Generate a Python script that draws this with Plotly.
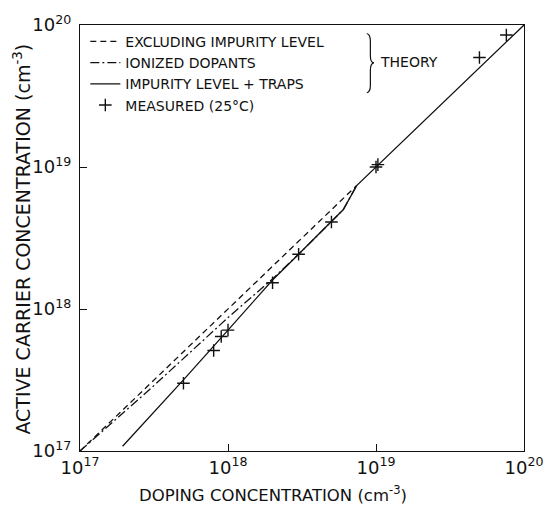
import plotly.graph_objects as go

# Theory: carriers equal doping when the impurity level is ignored
excl_doping = [1e17, 7.4e18]
excl_carriers = [1e17, 7.4e18]

# Theory: ionized dopants only
ion_doping = [1e17, 3e17, 1e18, 2e18, 3e18, 5e18, 6e18, 7.4e18]
ion_carriers = [1e17, 2.75e17, 8.7e17, 1.63e18, 2.43e18, 4.1e18, 5.0e18, 7.4e18]

# Theory: impurity level plus traps
trap_doping = [1.94e17, 3.16e17, 5e17, 1e18, 2e18, 3e18, 5e18, 6e18, 7.4e18, 1e20]
trap_carriers = [1.08e17, 1.88e17, 3.17e17, 7.1e17, 1.6e18, 2.43e18, 4.1e18, 5.0e18, 7.4e18, 1e20]

# Measured at 25 C
meas_doping = [5e17, 8e17, 9e17, 1e18, 2e18, 3e18, 5e18, 1e19, 1.03e19, 5e19, 7.6e19]
meas_carriers = [3.0e17, 5.1e17, 6.4e17, 7.1e17, 1.53e18, 2.43e18, 4.1e18, 1.0e19, 1.04e19, 5.9e19, 8.5e19]

tick_vals = [1e17, 1e18, 1e19, 1e20]
tick_text = ["10<sup>17</sup>", "10<sup>18</sup>", "10<sup>19</sup>", "10<sup>20</sup>"]

FONT = "DejaVu Sans"
INK = "#111111"

fig = go.Figure()
fig.add_trace(go.Scatter(
    x=excl_doping, y=excl_carriers, mode="lines",
    name="EXCLUDING IMPURITY LEVEL",
    line=dict(color=INK, width=1.3, dash="6px,4px"),
))
fig.add_trace(go.Scatter(
    x=ion_doping, y=ion_carriers, mode="lines",
    name="IONIZED DOPANTS",
    line=dict(color=INK, width=1.3, dash="9px,3px,2px,3px"),
))
fig.add_trace(go.Scatter(
    x=trap_doping, y=trap_carriers, mode="lines",
    name="IMPURITY LEVEL + TRAPS",
    line=dict(color=INK, width=1.3),
))
fig.add_trace(go.Scatter(
    x=meas_doping, y=meas_carriers, mode="markers",
    name="MEASURED (25°C)",
    marker=dict(symbol="cross-thin", size=9, line=dict(color=INK, width=1.4)),
))

axis_common = dict(
    type="log",
    tickvals=tick_vals,
    ticktext=tick_text,
    ticks="inside",
    ticklen=7,
    tickwidth=1.2,
    tickcolor=INK,
    showline=True,
    linecolor=INK,
    linewidth=1.2,
    mirror=True,
    showgrid=False,
    zeroline=False,
    tickfont=dict(family=FONT, size=18, color=INK),
)

fig.update_xaxes(range=[17, 20], **axis_common)
fig.update_yaxes(range=[17, 20], ticklabelstandoff=4, **axis_common)

fig.update_layout(
    width=555,
    height=512,
    margin=dict(l=80, r=30, t=20, b=61),
    paper_bgcolor="white",
    plot_bgcolor="white",
    font=dict(family=FONT, color=INK),
    showlegend=True,
    legend=dict(
        x=0.012, y=0.998, xanchor="left", yanchor="top",
        bgcolor="rgba(0,0,0,0)", borderwidth=0,
        font=dict(family=FONT, size=14, color=INK),
        itemwidth=30, tracegroupgap=0,
    ),
    annotations=[
        dict(text="DOPING CONCENTRATION (cm<sup>-3</sup>)", xref="paper", yref="paper",
             x=0.434, y=-0.101, xanchor="center", yanchor="middle", showarrow=False,
             font=dict(family=FONT, size=16.5, color=INK)),
        dict(text="ACTIVE CARRIER CONCENTRATION (cm<sup>-3</sup>)", xref="paper", yref="paper",
             x=-0.130, y=0.497, xanchor="center", yanchor="middle", textangle=-90,
             showarrow=False, font=dict(family=FONT, size=19, color=INK)),
        dict(text="THEORY", xref="paper", yref="paper",
             x=0.742, y=0.913, xanchor="center", yanchor="middle", showarrow=False,
             font=dict(family=FONT, size=14, color=INK)),
    ],
    shapes=[
        # curly brace grouping the three theory curves
        dict(type="path", xref="paper", yref="paper",
             path="M 0.646,0.980 Q 0.654,0.978 0.654,0.962 L 0.654,0.928 "
                  "Q 0.654,0.912 0.662,0.911 Q 0.654,0.910 0.654,0.893 "
                  "L 0.654,0.858 Q 0.654,0.843 0.646,0.841",
             line=dict(color=INK, width=1.2)),
    ],
)

fig.write_html("out.html")
